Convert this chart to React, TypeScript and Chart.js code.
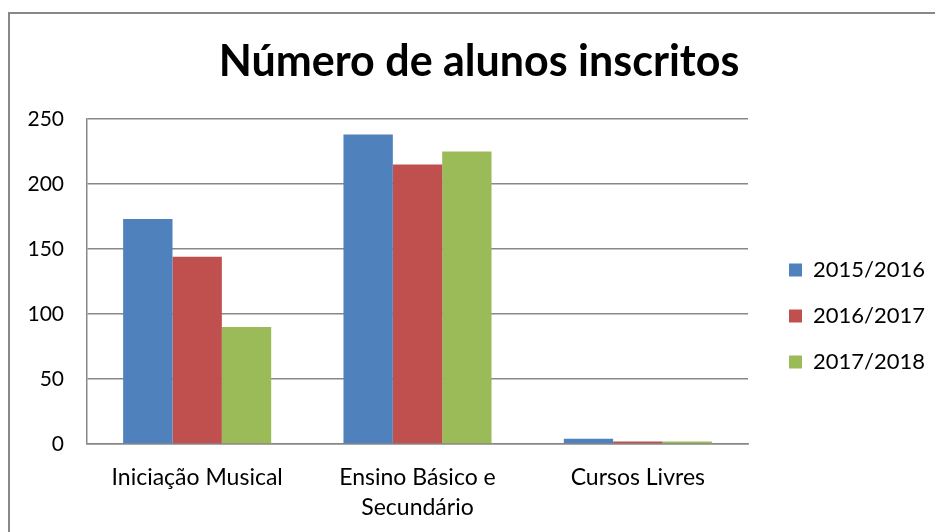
import React, { useEffect, useRef } from 'react';
import { Chart, registerables } from 'chart.js';

Chart.register(...registerables);

const categories: (string | string[])[] = ['Iniciação Musical', ['Ensino Básico e', 'Secundário'], 'Cursos Livres'];
const seriesLabels = ['2015/2016', '2016/2017', '2017/2018'];
const values2015 = [173, 238, 4];
const values2016 = [144, 215, 2];
const values2017 = [90, 225, 2];
const yTickValues = [0, 50, 100, 150, 200, 250];
const seriesColors = ['#4F81BD', '#C0504D', '#9BBB59'];

const FONT = 'Lato, "Open Sans", sans-serif';
const LEGEND_SIZE = 22;
const LEGEND_PAD = 24;
const LEGEND_BOX = 13;

const placer = {
  id: 'placer',
  afterLayout(chart: any) {
    const lg = chart.legend;
    if (lg) {
      const dx = 789 - LEGEND_PAD - lg.left;
      lg.left += dx;
      lg.right += dx;
      const dy = 270 - LEGEND_SIZE / 2 - LEGEND_PAD - lg.top;
      lg.top += dy;
      lg.bottom += dy;
    }
    const tb = chart.titleBlock;
    if (tb) {
      const dx = 479 - (tb.left + tb.right) / 2;
      tb.left += dx;
      tb.right += dx;
    }
  },
};

export default function App() {
  const canvasRef = useRef<HTMLCanvasElement | null>(null);

  useEffect(() => {
    const canvas = canvasRef.current;
    if (!canvas) return;
    const ctx = canvas.getContext('2d')!;
    ctx.font = `normal ${LEGEND_SIZE}px ${FONT}`;
    const tw = Math.max(...seriesLabels.map((s) => ctx.measureText(s).width));
    const legendW = LEGEND_PAD + LEGEND_BOX + LEGEND_SIZE / 2 + tw + 10;
    const padRight = Math.max(0, 935 - 748 - legendW);

    const seriesValues = [values2015, values2016, values2017];
    const chart = new Chart(canvas, {
      type: 'bar',
      data: {
        labels: categories as any,
        datasets: seriesLabels.map((label, i) => ({
          label,
          data: seriesValues[i],
          backgroundColor: seriesColors[i],
          borderWidth: 0,
          barPercentage: 1,
          categoryPercentage: 0.672,
        })),
      },
      options: {
        responsive: false,
        animation: false,
        devicePixelRatio: 1,
        layout: { padding: { left: 0, right: padRight, top: 0, bottom: 0 } },
        plugins: {
          title: {
            display: true,
            text: 'Número de alunos inscritos',
            color: '#000',
            font: { family: FONT, size: 43, weight: 'bold', lineHeight: 1.2 },
            padding: { top: 36, bottom: 31.4 },
          },
          legend: {
            display: true,
            position: 'right',
            align: 'start',
            labels: {
              boxWidth: LEGEND_BOX,
              boxHeight: LEGEND_BOX,
              padding: LEGEND_PAD,
              color: '#000',
              font: { family: FONT, size: LEGEND_SIZE },
            },
          },
          tooltip: { enabled: false },
        },
        scales: {
          x: {
            grid: { display: false, drawTicks: false },
            border: { display: true, color: '#888', width: 1.5 },
            ticks: {
              color: '#000',
              font: { family: FONT, size: 23, lineHeight: 1.3 },
              padding: 19,
              maxRotation: 0,
              autoSkip: false,
            },
            afterFit(scale: any) {
              scale.height = 88;
            },
          },
          y: {
            min: 0,
            max: 250,
            grid: { color: '#888', lineWidth: 1.5, drawTicks: false },
            border: { display: true, color: '#888', width: 1.5 },
            afterBuildTicks(scale: any) {
              scale.ticks = yTickValues.map((v) => ({ value: v }));
            },
            ticks: {
              color: '#000',
              font: { family: FONT, size: 21 },
              padding: 23,
            },
            afterFit(scale: any) {
              scale.width = 87;
            },
          },
        },
      },
      plugins: [placer],
    });
    return () => chart.destroy();
  }, []);

  return (
    <div style={{ position: 'absolute', left: 0, top: 0, width: 935, height: 532, overflow: 'hidden', background: '#fff' }}>
      <div
        style={{
          position: 'absolute',
          left: 8,
          top: 12,
          width: 1200,
          height: 1200,
          borderLeft: '2px solid #888',
          borderTop: '2px solid #888',
        }}
      />
      <canvas ref={canvasRef} width={935} height={532} style={{ position: 'absolute', left: 0, top: 0 }} />
    </div>
  );
}
